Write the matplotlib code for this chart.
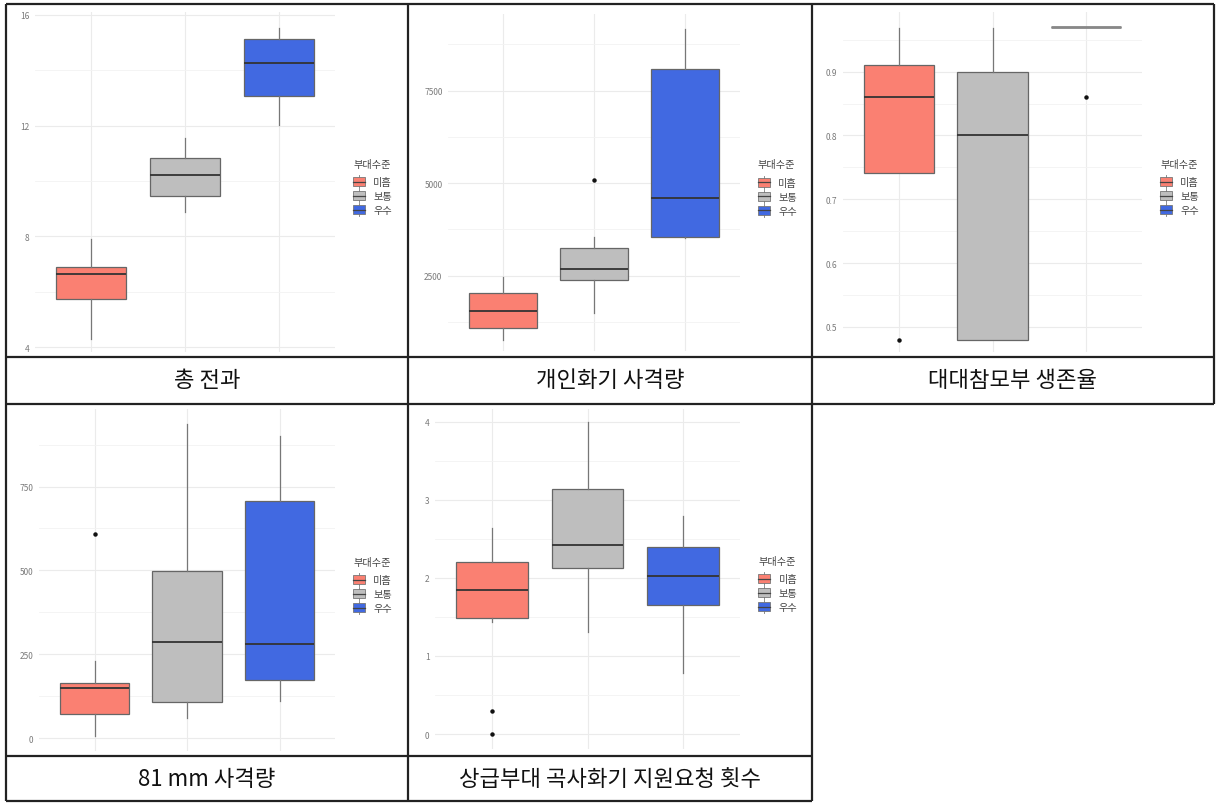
import matplotlib
matplotlib.use('Agg')
import matplotlib.pyplot as plt
from matplotlib.patches import Patch, Rectangle
from matplotlib.lines import Line2D
from matplotlib.legend_handler import HandlerBase

plt.rcParams['font.family'] = ['Noto Sans CJK KR', 'DejaVu Sans']

W, H = 1220, 804

groups = ['미흡', '보통', '우수']
fills = ['#FA8072', '#BEBEBE', '#4169E1']
legend_title = '부대수준'

captions = ['총 전과', '개인화기 사격량', '대대참모부 생존율',
            '81 mm 사격량', '상급부대 곡사화기 지원요청 횟수']

# box summaries per group: whisker low, q1, median, q3, whisker high, outliers
kills_lo = [4.29, 8.89, 12.02]
kills_q1 = [5.75, 9.45, 13.08]
kills_med = [6.63, 10.22, 14.24]
kills_q3 = [6.90, 10.81, 15.14]
kills_hi = [7.90, 11.54, 15.52]
kills_out = [[], [], []]

rifle_lo = [762, 1484, 3530]
rifle_q1 = [1086, 2392, 3546]
rifle_med = [1554, 2673, 4600]
rifle_q3 = [2032, 3249, 8087]
rifle_hi = [2457, 3538, 9168]
rifle_out = [[], [5087], []]

staff_lo = [0.741, 0.48, 0.97]
staff_q1 = [0.741, 0.48, 0.97]
staff_med = [0.86, 0.80, 0.97]
staff_q3 = [0.911, 0.90, 0.97]
staff_hi = [0.969, 0.969, 0.97]
staff_out = [[0.48], [], [0.86]]

mortar_lo = [8, 60, 112]
mortar_q1 = [72, 109, 175]
mortar_med = [150, 288, 281]
mortar_q3 = [164, 499, 708]
mortar_hi = [230, 935, 900]
mortar_out = [[608], [], []]

support_lo = [1.43, 1.31, 0.78]
support_q1 = [1.48, 2.13, 1.65]
support_med = [1.85, 2.42, 2.02]
support_q3 = [2.20, 3.14, 2.40]
support_hi = [2.64, 3.99, 2.79]
support_out = [[0.30, 0.0], [], []]

panels = [
    (kills_lo, kills_q1, kills_med, kills_q3, kills_hi, kills_out),
    (rifle_lo, rifle_q1, rifle_med, rifle_q3, rifle_hi, rifle_out),
    (staff_lo, staff_q1, staff_med, staff_q3, staff_hi, staff_out),
    (mortar_lo, mortar_q1, mortar_med, mortar_q3, mortar_hi, mortar_out),
    (support_lo, support_q1, support_med, support_q3, support_hi, support_out),
]

# axis scales
y_major = [[4, 8, 12, 16], [2500, 5000, 7500], [0.5, 0.6, 0.7, 0.8, 0.9],
           [0, 250, 500, 750], [0, 1, 2, 3, 4]]
y_minor = [[6, 10, 14], [1250, 3750, 6250, 8750], [0.55, 0.65, 0.75, 0.85, 0.95],
           [125, 375, 625, 875], [0.5, 1.5, 2.5, 3.5]]
y_lims = [(3.82, 16.1), (465, 9574), (0.4607, 0.9934), (-38, 981), (-0.19, 4.16)]

# panel rectangles in pixels: left, top, right, bottom
boxes_px = [(35, 13, 335, 353), (448, 15, 740, 352), (843, 13, 1142, 353),
            (39, 410, 335, 752), (435, 410, 740, 750)]


class BoxKey(HandlerBase):
    # little boxplot glyph for the legend
    def create_artists(self, legend, orig_handle, xdescent, ydescent,
                       width, height, fontsize, trans):
        x0, y0 = -xdescent, -ydescent
        cx = x0 + width / 2
        rect = Rectangle((x0, y0), width, height,
                         facecolor=orig_handle.get_facecolor(),
                         edgecolor='#777777', lw=0.6, transform=trans)
        mid = Line2D([x0, x0 + width], [y0 + height / 2] * 2,
                     color='#444444', lw=0.9, transform=trans)
        top = Line2D([cx, cx], [y0 + height, y0 + height + 1.5],
                     color='#777777', lw=0.6, transform=trans)
        bot = Line2D([cx, cx], [y0 - 1.5, y0], color='#777777', lw=0.6,
                     transform=trans)
        return [rect, mid, top, bot]


def px_axes(l, t, r, b):
    return fig.add_axes([l / W, 1 - b / H, (r - l) / W, (b - t) / H])


fig = plt.figure(figsize=(W / 100, H / 100), dpi=100)

# table frame and captions
base = fig.add_axes([0, 0, 1, 1])
base.set_xlim(0, W)
base.set_ylim(H, 0)
base.axis('off')
lc = dict(color='#222222', lw=1.6, solid_capstyle='butt')
for y in [5, 358, 405]:
    base.plot([6, 1214], [y, y], **lc)
for y in [757, 802]:
    base.plot([6, 812], [y, y], **lc)
for x in [6, 408, 812]:
    base.plot([x, x], [5, 802], **lc)
base.plot([1214, 1214], [5, 405], **lc)

cap_pos = [(207, 381), (610, 381), (1013, 381), (207, 780), (610, 780)]
for (cx, cy), txt in zip(cap_pos, captions):
    base.text(cx, cy, txt, ha='center', va='center', fontsize=16, color='#111111')

for i, (lo, q1, med, q3, hi, out) in enumerate(panels):
    ax = px_axes(*boxes_px[i])
    stats = []
    for g in range(len(groups)):
        stats.append(dict(whislo=lo[g], q1=q1[g], med=med[g], q3=q3[g],
                          whishi=hi[g], fliers=out[g]))
    bp = ax.bxp(stats, positions=[1, 2, 3], widths=0.75, patch_artist=True,
                showcaps=False,
                boxprops=dict(edgecolor='#666666', linewidth=0.9),
                medianprops=dict(color='#333333', linewidth=1.3),
                whiskerprops=dict(color='#777777', linewidth=0.9),
                flierprops=dict(marker='o', markersize=2.2, markerfacecolor='#111111',
                                markeredgecolor='#111111'))
    for patch, c in zip(bp['boxes'], fills):
        patch.set_facecolor(c)
    if i == 2:
        # flat box for the last group
        bp['medians'][2].set_color('#888888')
        bp['medians'][2].set_linewidth(2)

    ax.set_xlim(0.4, 3.6)
    ax.set_ylim(*y_lims[i])
    ax.set_yticks(y_major[i])
    ax.set_yticks(y_minor[i], minor=True)
    ax.set_xticks([1, 2, 3])
    ax.set_xticklabels([])
    ax.grid(True, which='major', color='#ebebeb', lw=0.8)
    ax.grid(True, which='minor', axis='y', color='#f3f3f3', lw=0.6)
    ax.set_axisbelow(True)
    ax.tick_params(length=0, which='both', labelsize=6, labelcolor='#7a7a7a', pad=4)
    for s in ax.spines.values():
        s.set_visible(False)

    handles = [Patch(facecolor=c) for c in fills]
    leg = ax.legend(handles, groups, title=legend_title, loc='center left',
                    bbox_to_anchor=(1.03, 0.485), frameon=False, fontsize=7.3,
                    title_fontsize=7.3, handlelength=1.2, handleheight=0.95,
                    handletextpad=0.8, labelspacing=0.4,
                    handler_map={Patch: BoxKey()})
    leg._legend_box.align = 'left'
    leg._legend_box.sep = 6
    for t in leg.get_texts():
        t.set_color('#444444')
    leg.get_title().set_color('#444444')

fig.savefig('out.png', dpi=100)
